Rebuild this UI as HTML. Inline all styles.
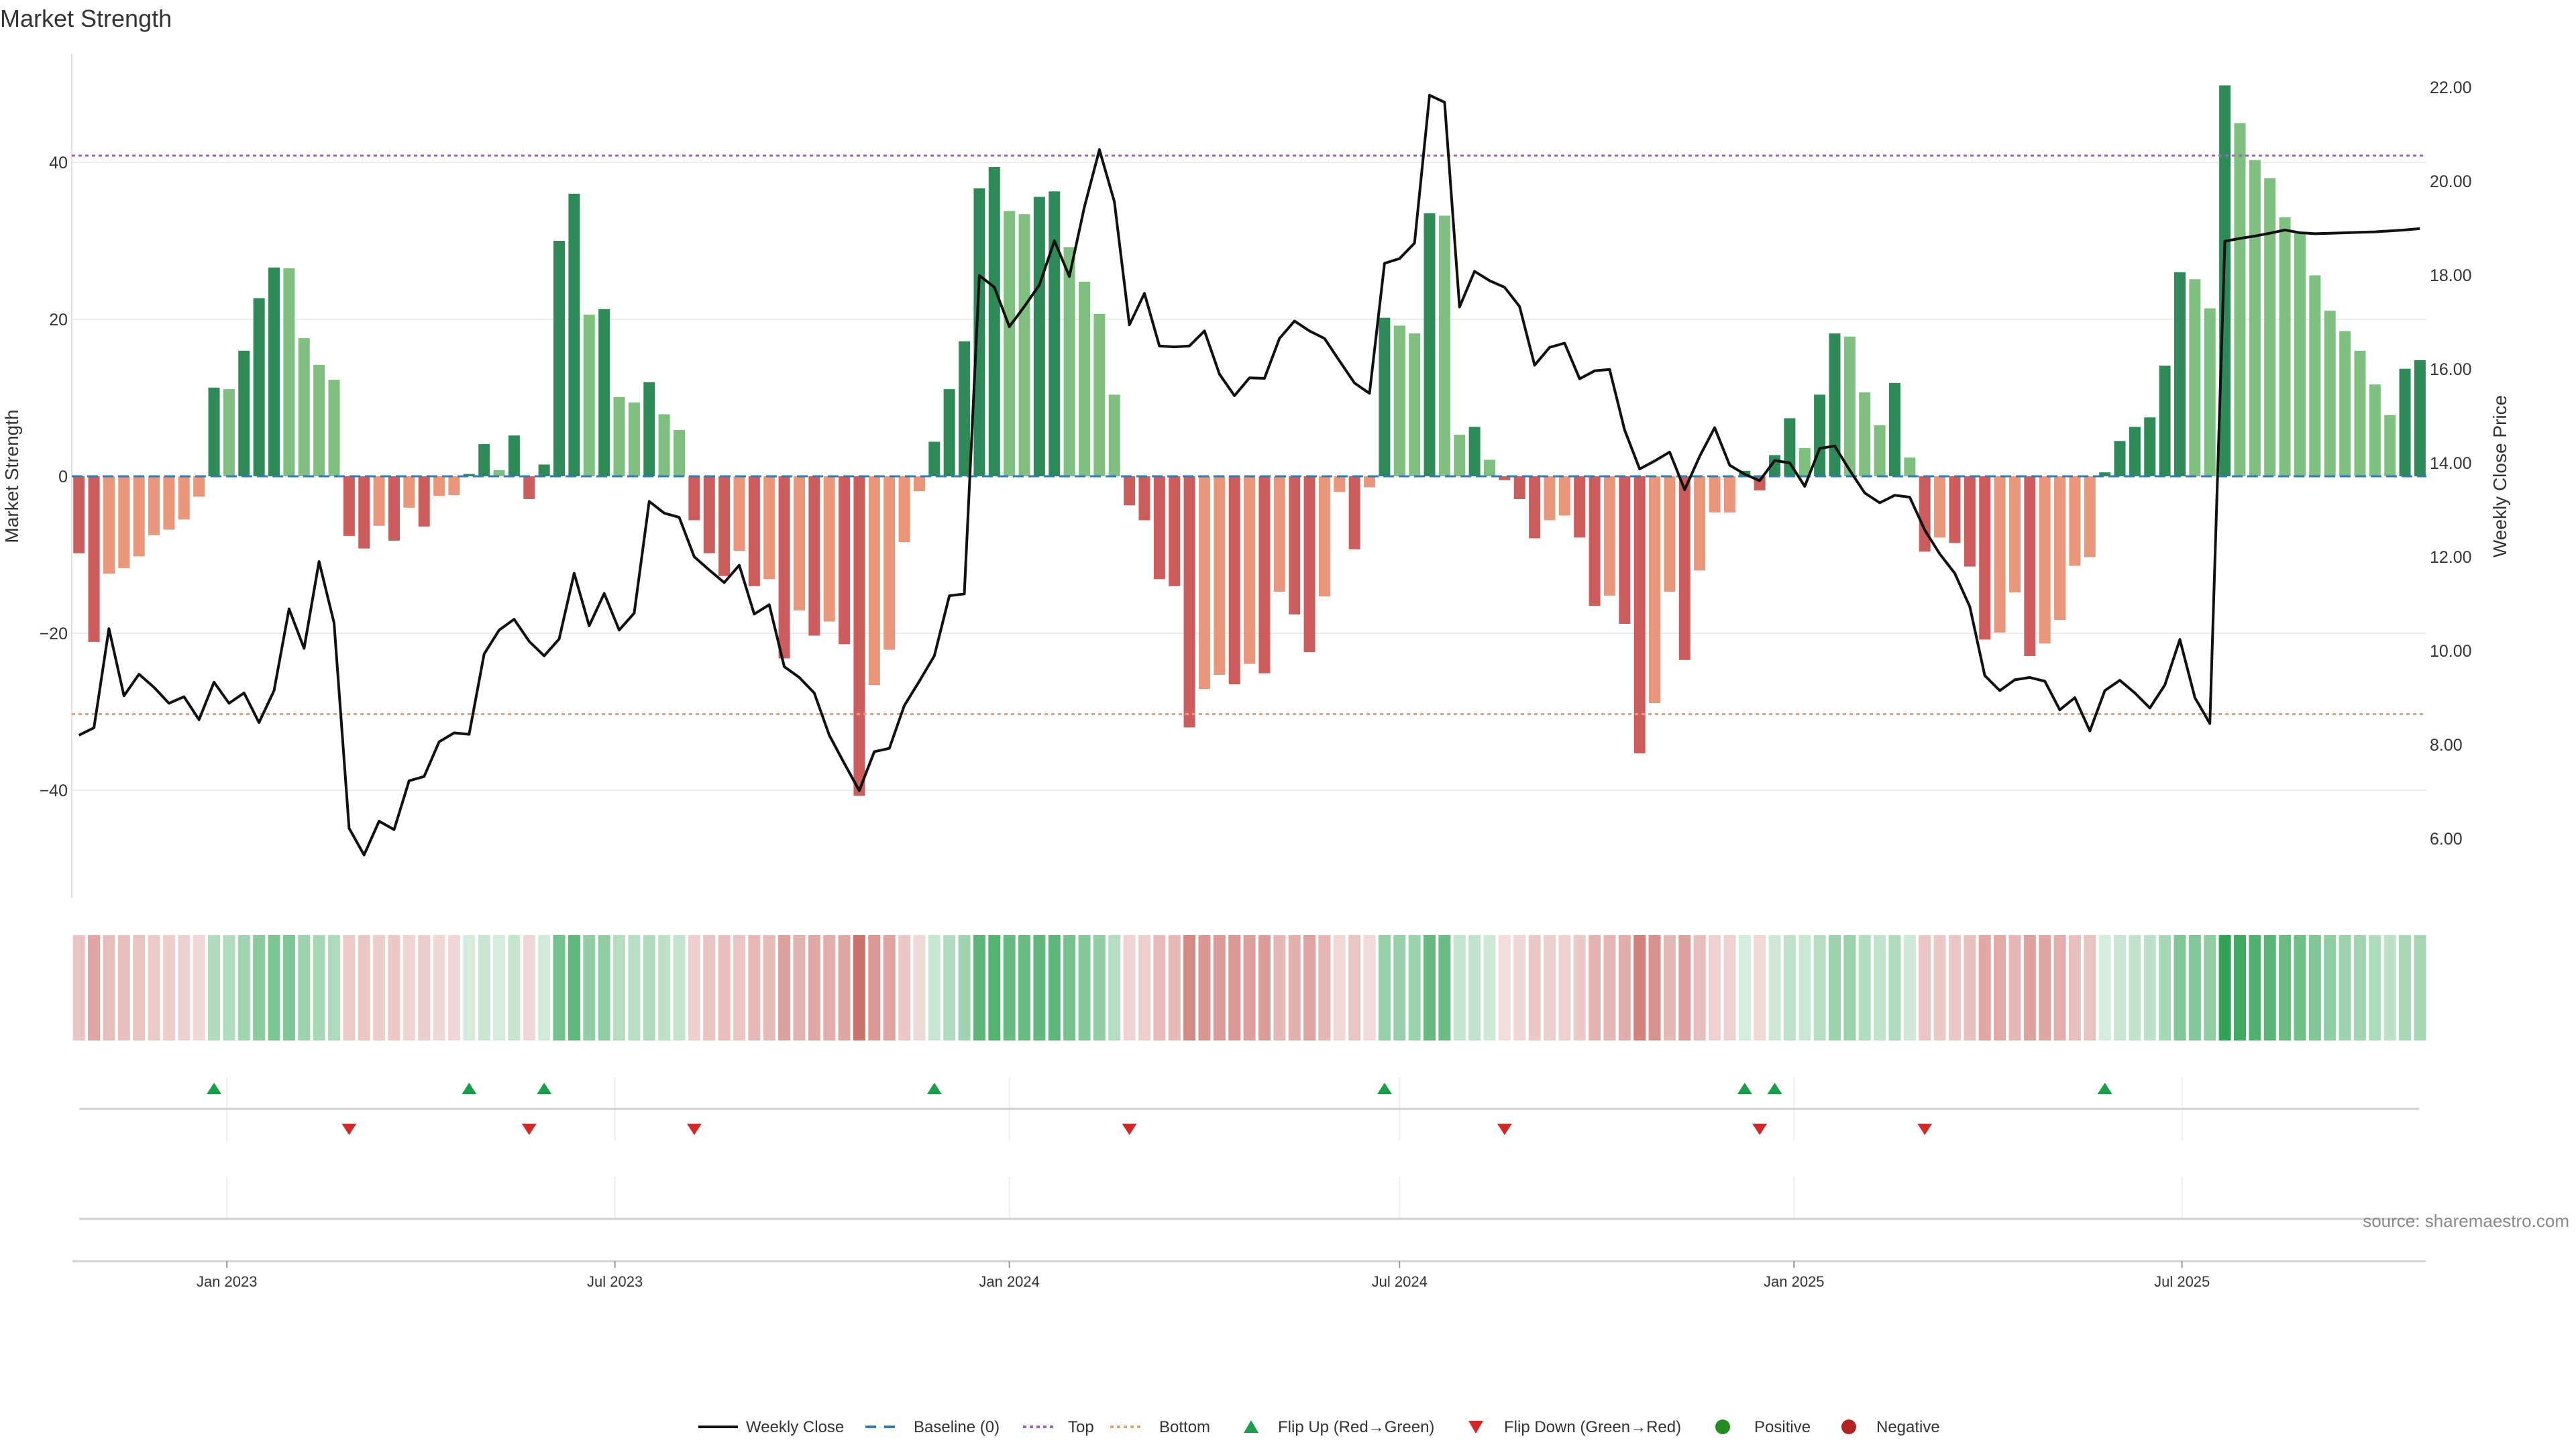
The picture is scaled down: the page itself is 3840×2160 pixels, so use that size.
<!DOCTYPE html>
<html><head><meta charset="utf-8"><style>
html,body{margin:0;padding:0;background:#fff;}
svg{display:block;font-family:"Liberation Sans",sans-serif;}
</style></head><body>
<svg id="chart" width="3840" height="2160" viewBox="0 0 3840 2160" xmlns="http://www.w3.org/2000/svg">
<text x="0" y="40" font-size="36" fill="#333">Market Strength</text>
<g id="main"></g>
<g id="heat"></g>
<g id="flips"></g>
<g id="xaxis"></g>
<g id="legend"></g>
<text x="3830" y="1829" font-size="26" fill="#888" text-anchor="end">source: sharemaestro.com</text>
</svg>
<script>
const startDate = "2022-10-24";
const strengthValues = [-9.8,-21.1,-12.4,-11.7,-10.2,-7.5,-6.8,-5.5,-2.6,11.3,
11.1,16.0,22.7,26.6,26.5,17.6,14.2,12.3,-7.6,-9.2,
-6.3,-8.2,-4.0,-6.4,-2.5,-2.4,0.3,4.1,0.8,5.2,
-2.9,1.5,30.0,36.0,20.6,21.3,10.1,9.4,12.0,7.9,
5.9,-5.6,-9.8,-12.7,-9.5,-14.0,-13.1,-23.2,-17.1,-20.3,
-18.5,-21.4,-40.7,-26.6,-22.1,-8.4,-1.9,4.4,11.1,17.2,
36.7,39.4,33.8,33.4,35.6,36.3,29.2,24.8,20.7,10.4,
-3.7,-5.6,-13.1,-14.0,-32.0,-27.1,-25.3,-26.5,-23.9,-25.1,
-14.7,-17.6,-22.4,-15.3,-2.0,-9.3,-1.4,20.2,19.2,18.2,
33.5,33.2,5.3,6.3,2.1,-0.5,-2.9,-7.9,-5.6,-5.0,
-7.8,-16.5,-15.2,-18.8,-35.3,-28.9,-14.7,-23.4,-12.0,-4.6,
-4.6,0.7,-1.8,2.7,7.4,3.6,10.4,18.2,17.8,10.7,
6.5,11.9,2.4,-9.6,-7.8,-8.5,-11.5,-20.8,-19.9,-14.8,
-22.9,-21.3,-18.3,-11.4,-10.3,0.5,4.5,6.3,7.5,14.1,
26.0,25.1,21.4,49.8,45.0,40.3,38.0,33.0,31.1,25.6,
21.1,18.5,16.0,11.7,7.8,13.7,14.8];
const weeklyClose = [8.20,8.36,10.47,9.04,9.50,9.22,8.88,9.02,8.53,9.33,
8.88,9.10,8.47,9.15,10.89,10.05,11.90,10.59,6.22,5.65,
6.37,6.19,7.23,7.32,8.06,8.25,8.22,9.93,10.44,10.67,
10.20,9.89,10.25,11.65,10.53,11.22,10.44,10.80,13.18,12.93,
12.84,12.00,11.72,11.45,11.82,10.78,10.98,9.66,9.43,9.10,
8.20,7.60,7.02,7.85,7.92,8.83,9.35,9.89,11.17,11.21,
17.99,17.74,16.90,17.33,17.79,18.73,17.97,19.45,20.67,19.56,
16.94,17.61,16.49,16.47,16.49,16.81,15.89,15.43,15.81,15.80,
16.65,17.02,16.81,16.65,16.17,15.70,15.48,18.25,18.35,18.68,
21.83,21.68,17.32,18.08,17.88,17.74,17.33,16.08,16.46,16.55,
15.79,15.96,15.99,14.70,13.87,14.04,14.23,13.43,14.14,14.75,
13.95,13.76,13.62,14.05,14.00,13.50,14.31,14.36,13.84,13.36,
13.15,13.31,13.27,12.57,12.06,11.65,10.94,9.47,9.15,9.38,
9.43,9.35,8.74,9.00,8.29,9.15,9.37,9.10,8.78,9.27,
10.24,9.00,8.45,18.72,18.78,18.83,18.89,18.96,18.90,18.88,
18.89,18.90,18.91,18.92,18.94,18.96,18.99];
const leftTicks = [-40,-20,0,20,40];
const leftTickLabels = ["\u221240","\u221220","0","20","40"];
const rightTicks = [6,8,10,12,14,16,18,20,22];
const xTickDates = ["2023-01-01","2023-07-01","2024-01-01","2024-07-01","2025-01-01","2025-07-01"];
const xTickLabels = ["Jan 2023","Jul 2023","Jan 2024","Jul 2024","Jan 2025","Jul 2025"];
const topLevel = [40.85];
const bottomLevel = [-30.3];

const NS = "http://www.w3.org/2000/svg";
const DAY = 86400000, PXDAY = 22.37/7, X0 = 117.7;
const t0 = Date.parse(startDate);
const xDate = s => X0 + (Date.parse(s) - t0)/DAY*PXDAY;
const xi = i => X0 + i*7*PXDAY;
const yV = v => 710 - v*11.7;
const yP = p => 130 + (22 - p)*70;
const PL = 107, PR = 3617;
function mk(tag, attrs, parent){const e=document.createElementNS(NS,tag);for(const k in attrs)e.setAttribute(k,attrs[k]);parent.appendChild(e);return e;}
const main = document.getElementById('main');

leftTicks.forEach((v,k)=>{
  if(v!==0){const g=mk('line',{x1:PL,x2:PR,y1:yV(v),y2:yV(v),stroke:'#ececec','stroke-width':2},main);
  
  }
  const t=mk('text',{x:101,y:yV(v)+9,'font-size':25,fill:'#333','text-anchor':'end'},main);
  t.textContent=leftTickLabels[k];
  
  
});
rightTicks.forEach(p=>{
  const t=mk('text',{x:3622,y:yP(p)+9,'font-size':25,fill:'#333'},main);
  t.textContent=p.toFixed(2);
  
  
});
const ax=mk('line',{x1:PL,x2:PL,y1:80,y2:1339,stroke:'#e0e0e0','stroke-width':2},main);


const yt=mk('text',{x:0,y:0,'font-size':28,fill:'#333','text-anchor':'middle',transform:'translate(27,710) rotate(-90)'},main);
yt.textContent='Market Strength';


const yt2=mk('text',{x:0,y:0,'font-size':28,fill:'#333','text-anchor':'middle',transform:'translate(3736,710) rotate(-90)'},main);
yt2.textContent='Weekly Close Price';



strengthValues.forEach((v,i)=>{
  const prev = i>0 ? strengthValues[i-1] : null;
  let c;
  if(v>=0){ c = (prev===null || v>prev) ? '#2e8b57' : '#7fbf7f'; }
  else { c = (prev===null || v<prev) ? '#cd5c5c' : '#e9967a'; }
  const y1=Math.min(yV(0),yV(v)), h=Math.abs(yV(v)-yV(0));
  const b=mk('rect',{x:xi(i)-8.5,y:y1,width:17,height:Math.max(h,0.5),fill:c},main);
  
  
});
const bl=mk('line',{x1:PL,x2:PR,y1:yV(0),y2:yV(0),stroke:'#2f7bb5','stroke-width':3,'stroke-dasharray':'16 7'},main);


const tl=mk('line',{x1:PL,x2:PR,y1:yV(topLevel[0]),y2:yV(topLevel[0]),stroke:'#a05ad8','stroke-width':3,'stroke-dasharray':'5 5'},main);


const bt=mk('line',{x1:PL,x2:PR,y1:yV(bottomLevel[0]),y2:yV(bottomLevel[0]),stroke:'#f0a060','stroke-width':3,'stroke-dasharray':'5 5'},main);


const pts = weeklyClose.map((p,i)=>xi(i).toFixed(1)+','+yP(p).toFixed(1)).join(' ');
const pl=mk('polyline',{points:pts,fill:'none',stroke:'#111','stroke-width':4,'stroke-linejoin':'round'},main);



const heat=document.getElementById('heat');
strengthValues.forEach((v,i)=>{
  const a=Math.min(1,0.2+0.8*Math.abs(v)/50);
  const col = v>=0 ? `rgba(49,163,84,${a.toFixed(3)})` : `rgba(196,90,84,${a.toFixed(3)})`;
  const r=mk('rect',{x:xi(i)-9,y:1394,width:18,height:157,fill:col},heat);
  
  
});

const fl=document.getElementById('flips');
xTickDates.forEach(d=>{
  const x=xDate(d);
  const g1=mk('line',{x1:x,x2:x,y1:1606,y2:1700,stroke:'#eeeeee','stroke-width':2},fl);
  
  
  const g2=mk('line',{x1:x,x2:x,y1:1754,y2:1817,stroke:'#eeeeee','stroke-width':2},fl);
  
  
});
const fline=mk('line',{x1:118,x2:3606,y1:1653,y2:1653,stroke:'#d0d0d0','stroke-width':3},fl);


const lline=mk('line',{x1:118,x2:3606,y1:1817,y2:1817,stroke:'#d0d0d0','stroke-width':3},fl);


strengthValues.forEach((v,i)=>{
  if(i===0) return;
  const p=strengthValues[i-1], x=xi(i);
  if(p<=0 && v>0){
    const m=mk('polygon',{points:`${x-11},1631 ${x+11},1631 ${x},1614`,fill:'#1a9e4a'},fl);
    
    
  } else if(p>0 && v<=0){
    const m=mk('polygon',{points:`${x-11},1675 ${x+11},1675 ${x},1692`,fill:'#d62728'},fl);
    
    
  }
});

const xa=document.getElementById('xaxis');
const xl=mk('line',{x1:108,x2:3616,y1:1880,y2:1880,stroke:'#d0d0d0','stroke-width':3},xa);


xTickDates.forEach((d,k)=>{
  const x=xDate(d);
  const tk=mk('line',{x1:x,x2:x,y1:1880,y2:1890,stroke:'#999','stroke-width':2},xa);
  
  
  const t=mk('text',{x:x,y:1918,'font-size':22,fill:'#333','text-anchor':'middle'},xa);
  t.textContent=xTickLabels[k];
  
  
});

const lg=document.getElementById('legend');
const LY=2127;
function ltext(x,s,name){const t=mk('text',{x:x,y:LY+8,'font-size':24,fill:'#333'},lg);t.textContent=s;}
let e;
e=mk('line',{x1:1041,x2:1100,y1:LY,y2:LY,stroke:'#111','stroke-width':4},lg);


ltext(1112,'Weekly Close','legend-weekly-close');
e=mk('line',{x1:1290,x2:1338,y1:LY,y2:LY,stroke:'#2f7bb5','stroke-width':4,'stroke-dasharray':'16 12'},lg);


ltext(1362,'Baseline (0)','legend-baseline');
e=mk('line',{x1:1525,x2:1572,y1:LY,y2:LY,stroke:'#a05ad8','stroke-width':4,'stroke-dasharray':'5 5'},lg);


ltext(1592,'Top','legend-top');
e=mk('line',{x1:1655,x2:1702,y1:LY,y2:LY,stroke:'#f0a060','stroke-width':4,'stroke-dasharray':'5 5'},lg);


ltext(1728,'Bottom','legend-bottom');
e=mk('polygon',{points:'1854,2136 1876,2136 1865,2117',fill:'#1a9e4a'},lg);


ltext(1905,'Flip Up (Red\u2192Green)','legend-flip-up');
e=mk('polygon',{points:'2189,2118 2211,2118 2200,2137',fill:'#d62728'},lg);


ltext(2242,'Flip Down (Green\u2192Red)','legend-flip-down');
e=mk('circle',{cx:2568,cy:LY,r:11,fill:'#228b22'},lg);


ltext(2615,'Positive','legend-positive');
e=mk('circle',{cx:2756,cy:LY,r:11,fill:'#b22222'},lg);


ltext(2797,'Negative','legend-negative');
</script>
</body></html>
